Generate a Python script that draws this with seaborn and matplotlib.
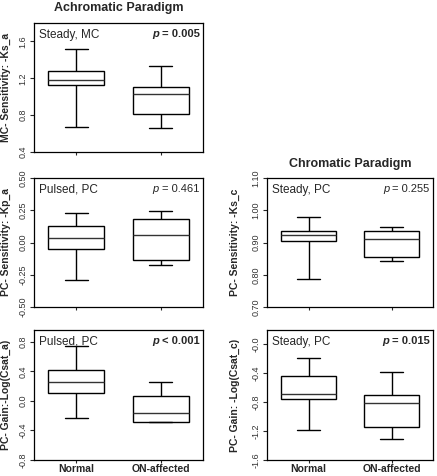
import pandas as pd
import matplotlib
matplotlib.use("Agg")
import matplotlib.pyplot as plt
import seaborn as sns

# groups on the x axis
groups = ["Normal", "ON-affected"]

# five-number summaries: min, q1, median, q3, max
ks_a_normal = [0.673, 1.127, 1.18, 1.276, 1.52]
ks_a_on = [0.665, 0.815, 1.033, 1.109, 1.331]

kp_a_normal = [-0.292, -0.049, 0.034, 0.125, 0.229]
kp_a_on = [-0.174, -0.135, 0.055, 0.180, 0.242]

csat_a_normal = [-0.23, 0.108, 0.255, 0.418, 0.746]
csat_a_on = [-0.289, -0.289, -0.167, 0.068, 0.262]

ks_c_normal = [0.786, 0.906, 0.924, 0.937, 0.978]
ks_c_on = [0.844, 0.855, 0.912, 0.935, 0.947]

csat_c_normal = [-1.19, -0.76, -0.69, -0.44, -0.19]
csat_c_on = [-1.307, -1.148, -0.81, -0.697, -0.387]

# panel texts
conditions = ["Steady, MC", "Pulsed, PC", "Pulsed, PC", "Steady, PC", "Steady, PC"]
p_values = ["= 0.005", "= 0.461", "< 0.001", "= 0.255", "= 0.015"]
p_bold = [True, False, True, False, True]
ylabels = ["MC- Sensitivity: -Ks_a", "PC- Sensitivity: -Kp_a", "PC- Gain:-Log(Csat_a)",
           "PC- Sensitivity: -Ks_c", "PC- Gain: -Log(Csat_c)"]
yticks = [[0.4, 0.8, 1.2, 1.6],
          [-0.5, -0.25, 0.0, 0.25, 0.5],
          [-0.8, -0.4, 0.0, 0.4, 0.8],
          [0.7, 0.8, 0.9, 1.0, 1.1],
          [-1.6, -1.2, -0.8, -0.4, 0.0]]
yticklabels = [["0.4", "0.8", "1.2", "1.6"],
               ["-0.50", "-0.25", "0.00", "0.25", "0.50"],
               ["-0.8", "-0.4", "0.0", "0.4", "0.8"],
               ["0.70", "0.80", "0.90", "1.00", "1.10"],
               ["-1.6", "-1.2", "-0.8", "-0.4", "-0.0"]]
ylims = [(0.4, 1.8), (-0.5, 0.5), (-0.8, 0.96), (0.7, 1.1), (-1.6, 0.2)]

sns.set_theme(style="ticks")
plt.rcParams["font.family"] = ["Liberation Sans", "DejaVu Sans"]

W, H = 437, 476
fig = plt.figure(figsize=(W / 100, H / 100), dpi=100)

# axes boxes in pixels: left, top, right, bottom
boxes = [(34, 23, 203, 152), (34, 178, 203, 307), (34, 330, 203, 460),
         (267, 178, 433, 307), (267, 330, 433, 460)]
data_pairs = [(ks_a_normal, ks_a_on), (kp_a_normal, kp_a_on), (csat_a_normal, csat_a_on),
              (ks_c_normal, ks_c_on), (csat_c_normal, csat_c_on)]
bottom_row = [False, False, True, False, True]

axes = []
for i, (l, t, r, b) in enumerate(boxes):
    ax = fig.add_axes([l / W, 1 - b / H, (r - l) / W, (b - t) / H])
    axes.append(ax)
    normal, on = data_pairs[i]
    df = pd.DataFrame({"group": [groups[0]] * len(normal) + [groups[1]] * len(on),
                       "value": normal + on})
    sns.boxplot(data=df, x="group", y="value", order=groups, ax=ax,
                whis=(0, 100), width=0.66, color="white", linecolor="black",
                linewidth=1.0, saturation=1, showfliers=False, capwidths=0.27,
                medianprops=dict(color="#333333", linewidth=1.0))
    ax.set_xlim(-0.5, 1.5)
    ax.set_ylim(*ylims[i])
    ax.set_yticks(yticks[i])
    ax.set_yticklabels(yticklabels[i])
    ax.tick_params(axis="y", labelrotation=90, labelsize=6.5, labelcolor="#333333",
                   length=3, width=0.8, pad=1.5, direction="out")
    ax.tick_params(axis="x", length=2.5, width=0.8, pad=0.5, direction="out")
    for lab in ax.get_yticklabels():
        lab.set_va("center")
    ax.set_xlabel("")
    ax.set_xticks([0, 1])
    if bottom_row[i]:
        ax.set_xticklabels(groups, fontsize=7.5, fontweight="bold")
    else:
        ax.set_xticklabels(["", ""])
    ax.set_ylabel(ylabels[i], fontsize=7.5, fontweight="bold")
    xl = -0.136 if l < 100 else -0.163
    ax.yaxis.set_label_coords(xl, 0.5)
    for s in ax.spines.values():
        s.set_color("black")
        s.set_linewidth(0.9)

    ax.annotate(conditions[i], xy=(0, 1), xycoords="axes fraction",
                xytext=(3.5, -4), textcoords="offset points",
                ha="left", va="top", fontsize=8.5)
    w = "bold" if p_bold[i] else "normal"
    pt = ax.annotate(p_values[i], xy=(1, 1), xycoords="axes fraction",
                     xytext=(-2.5, -4.5), textcoords="offset points",
                     ha="right", va="top", fontsize=8, fontweight=w)
    ax.annotate("p ", xy=(0, 0), xycoords=pt, ha="right", va="bottom",
                fontsize=8, fontweight=w, style="italic")

axes[0].set_title("Achromatic Paradigm", fontsize=9, fontweight="bold", pad=9)
axes[3].set_title("Chromatic Paradigm", fontsize=9, fontweight="bold", pad=8)

fig.savefig("out.png", dpi=100)
